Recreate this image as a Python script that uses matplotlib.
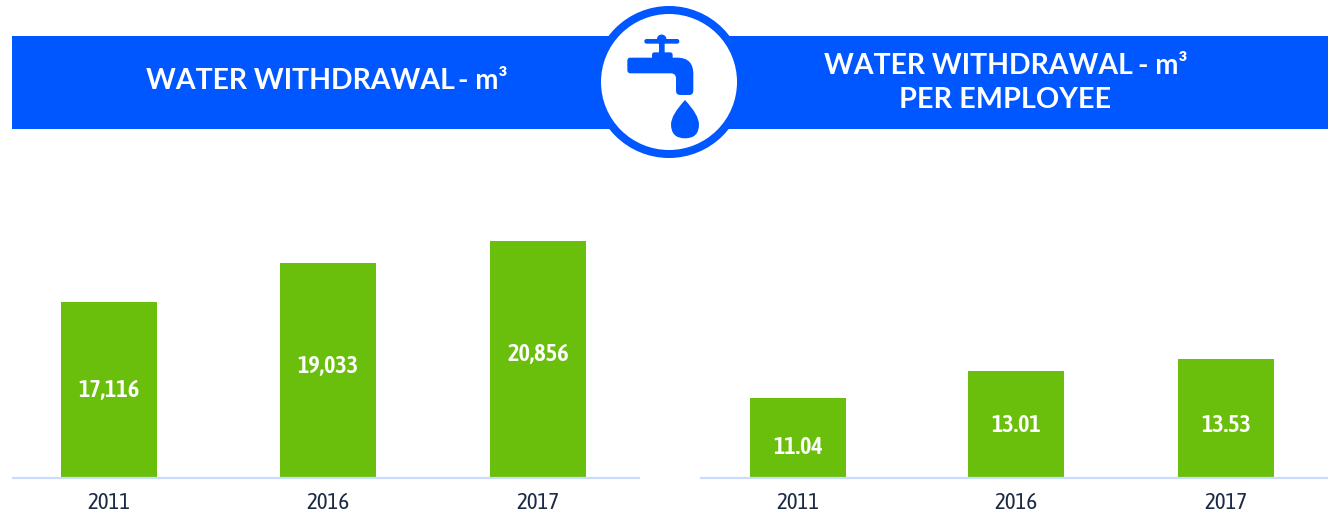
import matplotlib
matplotlib.use("Agg")
import matplotlib.pyplot as plt
from matplotlib.patches import Rectangle, Circle, FancyBboxPatch, PathPatch
from matplotlib.path import Path

W, H = 1334, 512
BLUE = "#0057ff"
GREEN = "#6abf0d"
AXIS = "#c9dcff"
DARK = "#1c2a44"
NARROW = ["Asap Condensed", "Lato", "DejaVu Sans"]

years = ["2011", "2016", "2017"]

# labels as printed, bar heights as drawn (the bars are not to scale with the labels)
total_labels = ["17,116", "19,033", "20,856"]
total_heights = [176.5, 215.5, 237.5]
total_label_at = [88, 113, 125]

employee_labels = ["11.04", "13.01", "13.53"]
employee_heights = [80.5, 107.5, 119.5]
employee_label_at = [32, 53, 53]

total_x = [97, 316, 526]
employee_x = [98, 316, 526]

plt.rcParams["font.family"] = ["Lato", "DejaVu Sans"]
fig = plt.figure(figsize=(W / 100, H / 100), dpi=100)
fig.patch.set_facecolor("white")


def draw_bars(left, right, xs, heights, labels, label_at):
    base = 478
    top = 140
    ax = fig.add_axes([left / W, 1 - base / H, (right - left) / W, (base - top) / H])
    ax.set_xlim(0, right - left)
    ax.set_ylim(0, base - top)
    ax.patch.set_alpha(0)
    ax.bar(xs, heights, width=96, color=GREEN, linewidth=0)
    for x, lab, y in zip(xs, labels, label_at):
        ax.text(x, y - 1, lab, color="white", fontsize=17.5, fontweight=600,
                family=NARROW, ha="center", va="center")
    for s in ["top", "left", "right"]:
        ax.spines[s].set_visible(False)
    ax.spines["bottom"].set_color(AXIS)
    ax.spines["bottom"].set_linewidth(1.6)
    ax.spines["bottom"].set_capstyle("butt")
    ax.set_yticks([])
    ax.set_xticks(xs)
    ax.set_xticklabels(years, family=NARROW)
    ax.tick_params(axis="x", length=0, pad=10, labelsize=16.5, labelcolor=DARK)
    return ax


draw_bars(12, 640, total_x, total_heights, total_labels, total_label_at)
draw_bars(700, 1328, employee_x, employee_heights, employee_labels, employee_label_at)

# banner and icon, in pixel coordinates of the picture
bg = fig.add_axes([0, 0, 1, 1], zorder=5)
bg.set_xlim(0, W)
bg.set_ylim(H, 0)
bg.axis("off")
bg.patch.set_alpha(0)
bg.add_patch(Rectangle((12, 36), 1316, 93, color=BLUE, lw=0))
bg.add_patch(Circle((669, 82), 76, color=BLUE, lw=0))
bg.add_patch(Circle((669, 82), 68, color="white", lw=0))


def zx(v):
    return 590 + v / 3


def zy(v):
    return v / 3


def rounded(x0, y0, x1, y1, r):
    w = zx(x1) - zx(x0)
    h = zy(y1) - zy(y0)
    bg.add_patch(FancyBboxPatch((zx(x0) + r, zy(y0) + r), w - 2 * r, h - 2 * r,
                                boxstyle=f"round,pad={r}", color=BLUE, lw=0))


rounded(163, 117, 268, 131, 2.2)
bg.add_patch(Circle((zx(215), zy(118)), 4.8, color=BLUE, lw=0))
rounded(207, 125, 224, 165, 0.5)
rounded(186, 157, 248, 185, 2.5)

spout = [(zx(120), zy(173)), (zx(262), zy(173)), (zx(310), zy(173)), (zx(310), zy(222)),
         (zx(310), zy(272)), (zx(310), zy(285)), (zx(297), zy(285)), (zx(271), zy(285)),
         (zx(258), zy(285)), (zx(258), zy(272)), (zx(258), zy(235)), (zx(258), zy(222)),
         (zx(245), zy(220)), (zx(122), zy(220)), (zx(112), zy(220)), (zx(112), zy(210)),
         (zx(112), zy(183)), (zx(112), zy(173)), (zx(120), zy(173))]
codes = [Path.MOVETO, Path.LINETO, Path.CURVE3, Path.CURVE3, Path.LINETO, Path.CURVE3, Path.CURVE3,
         Path.LINETO, Path.CURVE3, Path.CURVE3, Path.LINETO, Path.CURVE3, Path.CURVE3, Path.LINETO,
         Path.CURVE3, Path.CURVE3, Path.LINETO, Path.CURVE3, Path.CURVE3]
bg.add_patch(PathPatch(Path(spout, codes), color=BLUE, lw=0))

drop = [(zx(285), zy(300)), (zx(243), zy(345)), (zx(243), zy(373)), (zx(243), zy(415)),
        (zx(285), zy(415)), (zx(327), zy(415)), (zx(327), zy(373)), (zx(327), zy(345)),
        (zx(285), zy(300))]
drop_codes = [Path.MOVETO] + [Path.CURVE3] * 8
bg.add_patch(PathPatch(Path(drop, drop_codes), color=BLUE, lw=0))

title_kw = dict(color="white", fontweight="bold", va="center")
bg.text(146, 81, "WATER WITHDRAWAL", fontsize=20.4, ha="left", **title_kw)
bg.text(507, 81, "- m³", fontsize=20, ha="right", **title_kw)
bg.text(824, 66, "WATER WITHDRAWAL", fontsize=20.4, ha="left", **title_kw)
bg.text(1187, 66, "- m³", fontsize=20, ha="right", **title_kw)
bg.text(1005, 100, "PER EMPLOYEE", fontsize=20.7, ha="center", **title_kw)

fig.savefig("out.png", dpi=100)
